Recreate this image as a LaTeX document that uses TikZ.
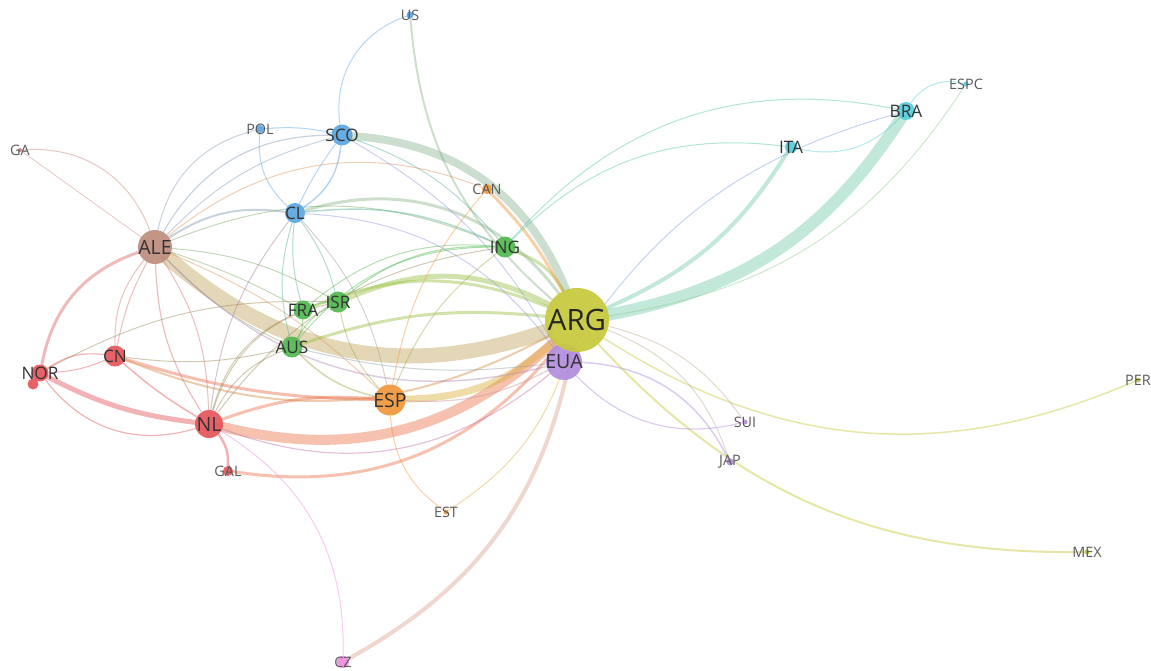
\documentclass[tikz,border=0pt]{standalone}
\usepackage{fontspec}
\setmainfont{Open Sans}
\usetikzlibrary{backgrounds}

\definecolor{argc}{RGB}{200,200,60}
\definecolor{euac}{RGB}{178,140,222}
\definecolor{espc}{RGB}{240,150,60}
\definecolor{redc}{RGB}{228,85,90}
\definecolor{alec}{RGB}{190,140,125}
\definecolor{bluc}{RGB}{90,165,225}
\definecolor{grnc}{RGB}{80,185,80}
\definecolor{cync}{RGB}{85,205,220}
\definecolor{pnkc}{RGB}{235,140,220}
\definecolor{gac}{RGB}{200,130,120}

\tikzset{
  country/.style={circle, inner sep=0pt, minimum size=#1*0.5pt, fill opacity=.92},
  link/.style={draw=#1, draw opacity=.45, line cap=round},
  tagL/.style={inner sep=0pt, text=black!85, font=\fontsize{14.7}{16}\selectfont},
  tagB/.style={inner sep=0pt, text=black!80, font=\fontsize{9.8}{11}\selectfont},
  tagM/.style={inner sep=0pt, text=black!80, font=\fontsize{8.6}{10}\selectfont},
  tagS/.style={inner sep=0pt, text=black!65, font=\fontsize{7.2}{8}\selectfont},
}

\begin{document}
\begin{tikzpicture}[x=0.5pt, y=0.5pt]
    \useasboundingbox (0,0) rectangle (1151,-670);

    % countries
    \node[country=7,  fill=bluc] (US)   at (410,-15)  {};
    \node[country=8,  fill=bluc] (POL)  at (260,-129) {};
    \node[country=21, fill=bluc] (SCO)  at (342,-135) {};
    \node[country=4,  fill=gac]  (GA)   at (20,-150)  {};
    \node[country=10, fill=espc] (CAN)  at (487,-189) {};
    \node[country=20, fill=bluc] (CL)   at (295,-213) {};
    \node[country=21, fill=grnc] (ING)  at (505,-247) {};
    \node[country=34, fill=alec] (ALE)  at (155,-247) {};
    \node[country=21, fill=grnc] (ISR)  at (338,-302) {};
    \node[country=19, fill=grnc] (FRA)  at (303,-310) {};
    \node[country=36, fill=euac] (EUA)  at (564,-362) {};
    \node[country=64, fill=argc] (ARG)  at (577,-320) {};
    \node[country=21, fill=grnc] (AUS)  at (292,-347) {};
    \node[country=21, fill=redc] (CN)   at (115,-356) {};
    \node[country=11, fill=redc] (NOR2) at (33,-384)  {};
    \node[country=17, fill=redc] (NOR)  at (40,-373)  {};
    \node[country=31, fill=espc] (ESP)  at (390,-400) {};
    \node[country=28, fill=redc] (NL)   at (209,-424) {};
    \node[country=5,  fill=euac] (SUI)  at (745,-422) {};
    \node[country=10, fill=redc] (GAL)  at (228,-471) {};
    \node[country=7,  fill=euac] (JAP)  at (730,-462) {};
    \node[country=5,  fill=espc] (EST)  at (446,-512) {};
    \node[country=5,  fill=argc] (MEX)  at (1087,-552) {};
    \node[country=5,  fill=argc] (PER)  at (1138,-380) {};
    \node[country=12, fill=pnkc] (CZ)   at (343,-662) {};
    \node[country=18, fill=cync] (BRA)  at (906,-111) {};
    \node[country=5,  fill=cync] (ESPC) at (966,-84)  {};
    \node[country=12, fill=cync] (ITA)  at (791,-147) {};

    % links: source/target/width/bend/colour
    \begin{scope}[on background layer]
    \foreach \s/\t/\w/\b/\c in {
        ALE/ARG/15/30/alec!55!argc, NL/ARG/10/28/redc!50!espc,
        ARG/BRA/12/23/cync!70!argc, SCO/ARG/8/-32/bluc!55!argc,
        ESP/ARG/7/20/espc!50!argc, ISR/ARG/5/-25/grnc!40!argc,
        NOR/NL/5/10/redc, ARG/ITA/4/17/cync!70!argc,
        CZ/ARG/4/25/pnkc!55!argc, FRA/ARG/3/-22/grnc!40!argc,
        AUS/ARG/3/-12/grnc!40!argc, ING/ARG/3/-20/grnc!40!argc,
        CL/ARG/3/-35/bluc!50!argc, CAN/ARG/3/-8/espc,
        US/ARG/2/22/bluc!50!argc, GAL/ARG/3/30/redc!50!espc,
        CN/ESP/3/8/redc!60!espc, CN/ARG/2/25/redc!50!argc,
        NOR/ALE/3/-30/redc!70!alec, GAL/NL/2.5/20/redc,
        ARG/MEX/2/24/argc, ARG/PER/1.5/28/argc,
        NL/ESP/3/-12/redc!50!espc, ALE/CL/2/-20/alec!40!bluc,
        NOR/CN/1.2/-20/redc, NOR/CN/1/10/redc,
        NOR/NL/1.2/35/redc, NOR/ISR/1/-15/redc!50!grnc,
        CN/NL/1.5/5/redc, ALE/CN/1/20/redc!50!alec,
        ALE/CN/1/8/redc!50!alec, ALE/NL/1.2/15/redc!50!alec,
        ALE/NL/1/-15/redc!50!alec, GA/ALE/1/-37/gac,
        GA/ALE/0.8/0/gac, ALE/POL/1/-32/alec!40!bluc,
        ALE/SCO/1.2/-30/alec!40!bluc, ALE/SCO/1/-15/alec!40!bluc,
        ALE/ING/1/-22/alec!40!grnc, ALE/CAN/1/-30/alec!40!espc,
        ALE/ISR/1/-12/alec!40!grnc, ALE/FRA/1/-5/alec!40!grnc,
        ALE/AUS/1/10/alec!40!grnc, ALE/ESP/1/-10/alec!40!espc,
        ALE/EUA/1.5/30/alec!40!euac, POL/SCO/1/-8/bluc,
        POL/CL/1/26/bluc, SCO/CL/1.5/-25/bluc,
        SCO/CL/1/5/bluc, US/SCO/1/40/bluc,
        SCO/ING/1/-15/bluc!50!grnc, SCO/EUA/1/-15/bluc!40!euac,
        CL/ING/1.5/-15/bluc!50!grnc, CL/FRA/1/10/bluc!50!grnc,
        CL/AUS/1/15/bluc!50!grnc, CL/ISR/1/-10/bluc!50!grnc,
        CL/ESP/1/-15/bluc!50!espc, CL/NL/1/15/bluc!50!redc,
        CL/EUA/1/-25/bluc!40!euac, ING/ISR/1.2/20/grnc,
        ING/FRA/1/22/grnc, ING/AUS/1/25/grnc,
        ING/ESP/1/15/grnc!50!espc, ING/NL/1/22/grnc!50!redc,
        ING/BRA/1/-30/grnc!40!cync, ING/ITA/1/-26/grnc!40!cync,
        ITA/BRA/1/30/cync, BRA/ESPC/1/-35/cync,
        ARG/ESPC/1/24/cync!50!argc, EUA/BRA/1/-20/euac!40!bluc,
        ISR/FRA/1/10/grnc, ISR/AUS/1/15/grnc,
        FRA/AUS/1/-15/grnc, AUS/ESP/1.5/15/grnc!50!espc,
        ISR/ESP/1/15/grnc!50!espc, FRA/NL/1/25/grnc!50!redc,
        AUS/NL/1/20/grnc!50!redc, ISR/NL/1/30/grnc!50!redc,
        AUS/CN/1/-10/grnc!50!redc, EUA/SUI/1.2/30/euac,
        EUA/JAP/1.5/-30/euac, ARG/SUI/1/-20/euac!50!argc,
        ARG/JAP/1/-25/euac!50!argc, NL/EUA/1.2/30/redc!40!euac,
        ESP/EUA/1.2/15/espc!40!euac, AUS/EUA/1/10/grnc!40!euac,
        ESP/EST/1/25/espc, EST/ARG/1/20/espc!50!argc,
        CAN/ESP/1/15/espc, CZ/NL/1/30/pnkc}
        \draw[link=\c, line width=\w*0.5pt] (\s) to[bend right=\b] (\t);
    \end{scope}

    % labels
    \node[tagL] (ARG-tag) at (ARG) {ARG};
    \foreach \n in {ALE,ESP,NL,EUA}
        \node[tagB] (\n-tag) at (\n) {\n};
    \foreach \n in {SCO,CL,ING,ISR,FRA,AUS,CN,NOR,BRA,ITA}
        \node[tagM] (\n-tag) at (\n) {\n};
    \foreach \n in {US,POL,GA,CAN,SUI,GAL,JAP,EST,MEX,PER,CZ,ESPC}
        \node[tagS] (\n-tag) at (\n) {\n};

\end{tikzpicture}
\end{document}
